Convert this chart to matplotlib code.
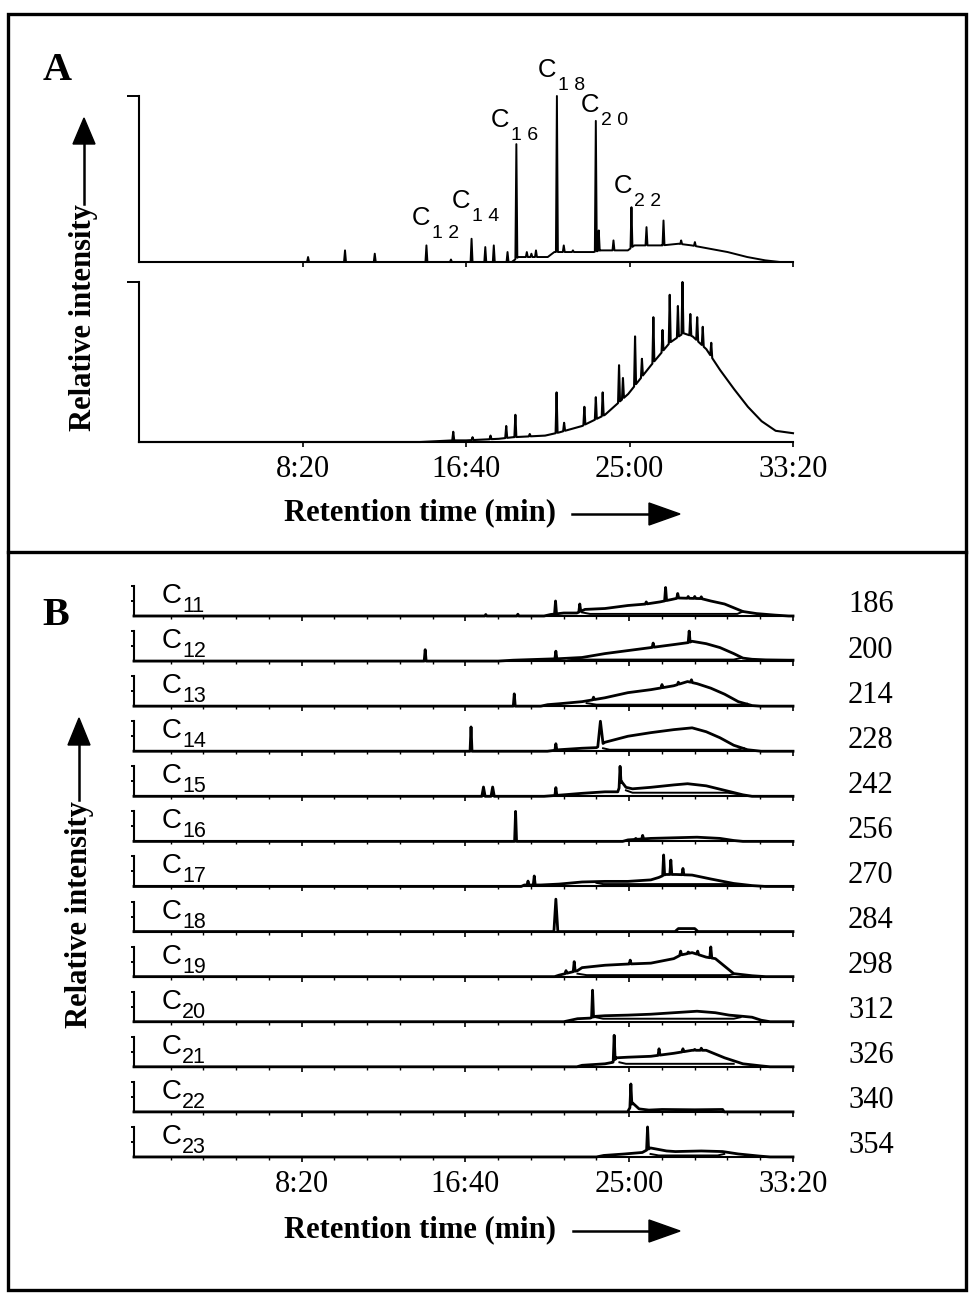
import numpy as np
import matplotlib
matplotlib.use("Agg")
import matplotlib.pyplot as plt
from matplotlib.patches import Rectangle, Polygon
from matplotlib.lines import Line2D

plt.rcParams['font.family'] = ['Liberation Serif', 'DejaVu Serif']

# ---------------- data (time in seconds, relative intensity) ----------------
TICK_T = [500, 1000, 1500, 2000]
TICK_LABELS = ["8:20", "16:40", "25:00", "33:20"]

# Panel A, upper chromatogram
A_TOP_ENV = [(0, 0), (1140, 0.0), (1160, 0.03), (1250, 0.03), (1270, 0.06), (1300, 0.06),
             (1390, 0.06), (1412, 0.07), (1495, 0.07), (1515, 0.10), (1600, 0.10),
             (1650, 0.11), (1690, 0.10), (1745, 0.08), (1800, 0.06), (1860, 0.03),
             (1915, 0.01), (1960, 0.0), (2000, 0.0)]
A_TOP_PEAKS = [(517, 0.03), (630, 0.07), (721, 0.05), (879, 0.10), (954, 0.015),
               (1017, 0.14), (1059, 0.09), (1085, 0.10), (1127, 0.06), (1154, 0.71),
               (1186, 0.06), (1200, 0.05), (1214, 0.07), (1278, 1.0), (1299, 0.10),
               (1327, 0.07), (1397, 0.85), (1406, 0.19), (1451, 0.13), (1506, 0.33),
               (1552, 0.21), (1604, 0.25), (1658, 0.13), (1700, 0.12)]
A_LABEL_NUMS = ["1 2", "1 4", "1 6", "1 8", "2 0", "2 2"]

# Panel A, lower chromatogram
A_BOT_ENV = [(0, 0), (860, 0.0), (960, 0.01), (1000, 0.01), (1100, 0.02), (1144, 0.03),
             (1242, 0.04), (1285, 0.06), (1355, 0.10), (1425, 0.17), (1496, 0.30),
             (1566, 0.48), (1623, 0.62), (1665, 0.68), (1693, 0.66), (1735, 0.58),
             (1777, 0.45), (1820, 0.33), (1862, 0.22), (1904, 0.13), (1947, 0.07),
             (2000, 0.055)]
A_BOT_PEAKS = [(961, 0.064), (1020, 0.03), (1075, 0.04), (1123, 0.10), (1151, 0.17),
               (1195, 0.05), (1277, 0.31), (1300, 0.12), (1362, 0.22), (1397, 0.28),
               (1418, 0.31), (1468, 0.48), (1480, 0.40), (1517, 0.66), (1538, 0.52),
               (1573, 0.78), (1601, 0.70), (1623, 0.92), (1648, 0.85), (1662, 1.0),
               (1686, 0.80), (1707, 0.78), (1724, 0.72), (1750, 0.62)]

# Panel B, extracted ion chromatograms
B_NAMES = ["11", "12", "13", "14", "15", "16", "17", "18", "19", "20", "21", "22", "23"]
B_MZ = ["186", "200", "214", "228", "242", "256", "270", "284", "298", "312", "326", "340", "354"]

C11_ENV = [(-12, 0), (1240, 0), (1260, 0.05), (1300, 0.1), (1340, 0.1), (1365, 0.22),
           (1426, 0.25), (1496, 0.35), (1552, 0.40), (1594, 0.47), (1629, 0.55),
           (1650, 0.6), (1720, 0.58), (1749, 0.5), (1791, 0.4), (1847, 0.15),
           (1889, 0.08), (1945, 0.03), (1987, 0), (2000, 0)]
C11_PEAKS = [(1062, 0.05), (1160, 0.06), (1275, 0.5), (1349, 0.4), (1552, 0.47),
             (1611, 0.95), (1648, 0.75), (1680, 0.65), (1700, 0.65), (1720, 0.64)]
C11_LOW = [(1356, 0.12), (1380, 0.07), (1830, 0.07), (1847, 0.15)]

C12_ENV = [(-12, 0), (1100, 0.0), (1146, 0.03), (1230, 0.06), (1286, 0.08), (1356, 0.12),
           (1426, 0.25), (1496, 0.35), (1566, 0.45), (1636, 0.55), (1683, 0.62),
           (1692, 0.66), (1735, 0.58), (1777, 0.45), (1819, 0.25), (1847, 0.10),
           (1875, 0.06), (1917, 0.04), (1987, 0.03), (2000, 0.03)]
C12_PEAKS = [(877, 0.38), (1276, 0.33), (1573, 0.6), (1683, 1.0)]
C12_LOW = [(1314, 0.08), (1340, 0.05), (1819, 0.05), (1840, 0.1)]

C13_ENV = [(-12, 0), (1230, 0), (1251, 0.05), (1286, 0.08), (1356, 0.15), (1426, 0.28),
           (1496, 0.45), (1566, 0.55), (1636, 0.68), (1678, 0.82), (1707, 0.75),
           (1749, 0.6), (1791, 0.4), (1833, 0.15), (1875, 0.02), (1900, 0), (2000, 0)]
C13_PEAKS = [(1149, 0.41), (1391, 0.3), (1600, 0.72), (1650, 0.8), (1690, 0.88)]
C13_LOW = [(1370, 0.1), (1400, 0.05), (1840, 0.05), (1860, 0.08)]

C14_ENV = [(-12, 0), (1250, 0), (1286, 0.05), (1356, 0.1), (1400, 0.12), (1426, 0.3),
           (1496, 0.5), (1566, 0.62), (1636, 0.72), (1692, 0.78), (1735, 0.65),
           (1777, 0.45), (1819, 0.2), (1861, 0.05), (1903, 0), (2000, 0)]
C14_PEAKS = [(1017, 0.81), (1276, 0.25), (1412, 1.0, 8)]
C14_LOW = [(1420, 0.1), (1440, 0.05), (1830, 0.05), (1850, 0.1)]

C15_ENV = [(-12, 0), (1240, 0), (1300, 0.05), (1356, 0.1), (1426, 0.15), (1465, 0.15),
           (1476, 0.5), (1490, 0.3), (1510, 0.25), (1566, 0.3), (1636, 0.38),
           (1678, 0.42), (1735, 0.35), (1791, 0.2), (1847, 0.05), (1875, 0), (2000, 0)]
C15_PEAKS = [(1055, 0.31, 5), (1083, 0.31, 5), (1276, 0.29), (1472, 1.0, 3)]
C15_LOW = [(1490, 0.2), (1510, 0.12), (1800, 0.12), (1830, 0.08)]

C16_ENV = [(-12, 0), (1480, 0), (1496, 0.05), (1566, 0.1), (1636, 0.12), (1707, 0.14),
           (1777, 0.1), (1819, 0.03), (1847, 0), (2000, 0)]
C16_PEAKS = [(1153, 1.0, 3), (1520, 0.1), (1541, 0.2)]
C16_LOW = []

C17_ENV = [(-12, 0), (1170, 0), (1180, 0.05), (1230, 0.05), (1286, 0.08), (1356, 0.15),
           (1426, 0.17), (1496, 0.17), (1566, 0.22), (1590, 0.3), (1611, 0.4),
           (1643, 0.4), (1692, 0.38), (1749, 0.25), (1819, 0.1), (1875, 0.03),
           (1917, 0), (2000, 0)]
C17_PEAKS = [(1191, 0.18), (1210, 0.35), (1605, 1.05, 3), (1627, 0.88, 3), (1664, 0.6)]
C17_LOW = [(1400, 0.12), (1420, 0.08), (1819, 0.08)]

C18_ENV = [(-12, 0), (1640, 0), (1650, 0.1), (1700, 0.1), (1710, 0), (2000, 0)]
C18_PEAKS = [(1276, 1.08, 6)]
C18_LOW = []

C19_ENV = [(-12, 0), (1272, 0), (1286, 0.05), (1342, 0.2), (1356, 0.3), (1426, 0.38),
           (1496, 0.42), (1566, 0.45), (1636, 0.6), (1657, 0.72), (1692, 0.8),
           (1735, 0.65), (1763, 0.6), (1791, 0.35), (1819, 0.1), (1875, 0.03),
           (1917, 0), (2000, 0)]
C19_PEAKS = [(1307, 0.2), (1332, 0.5), (1503, 0.55), (1657, 0.85), (1680, 0.82),
             (1709, 0.85), (1749, 0.99)]
C19_LOW = [(1342, 0.1), (1370, 0.05), (1805, 0.05), (1819, 0.08)]

C20_ENV = [(-12, 0), (1300, 0), (1342, 0.1), (1380, 0.12), (1398, 0.18), (1426, 0.2),
           (1496, 0.22), (1566, 0.25), (1636, 0.3), (1707, 0.35), (1763, 0.3),
           (1805, 0.22), (1847, 0.18), (1875, 0.15), (1903, 0.05), (1930, 0), (2000, 0)]
C20_PEAKS = [(1388, 1.05, 3)]
C20_LOW = [(1398, 0.15), (1420, 0.1), (1819, 0.1), (1840, 0.15)]

C21_ENV = [(-12, 0), (1340, 0), (1356, 0.05), (1426, 0.1), (1450, 0.15), (1461, 0.3),
           (1496, 0.32), (1566, 0.35), (1636, 0.45), (1692, 0.55), (1735, 0.55),
           (1791, 0.3), (1847, 0.1), (1903, 0.03), (1930, 0), (2000, 0)]
C21_PEAKS = [(1454, 1.05, 3), (1591, 0.6), (1664, 0.6), (1700, 0.58), (1720, 0.62)]
C21_LOW = [(1470, 0.15), (1490, 0.1), (1819, 0.1)]

C22_ENV = [(-12, 0), (1495, 0), (1510, 0.3), (1530, 0.1), (1560, 0.06), (1600, 0.08),
           (1700, 0.07), (1785, 0.08), (1790, 0), (2000, 0)]
C22_PEAKS = [(1505, 0.93, 3)]
C22_LOW = []

C23_ENV = [(-12, 0), (1400, 0), (1422, 0.05), (1486, 0.1), (1540, 0.15), (1565, 0.3),
           (1614, 0.2), (1641, 0.18), (1720, 0.2), (1785, 0.18), (1833, 0.1),
           (1897, 0.03), (1930, 0), (2000, 0)]
C23_PEAKS = [(1556, 1.0, 3)]
C23_LOW = [(1565, 0.1), (1590, 0.05), (1770, 0.05), (1790, 0.1)]

B_TRACES = [(C11_ENV, C11_PEAKS, C11_LOW), (C12_ENV, C12_PEAKS, C12_LOW),
            (C13_ENV, C13_PEAKS, C13_LOW), (C14_ENV, C14_PEAKS, C14_LOW),
            (C15_ENV, C15_PEAKS, C15_LOW), (C16_ENV, C16_PEAKS, C16_LOW),
            (C17_ENV, C17_PEAKS, C17_LOW), (C18_ENV, C18_PEAKS, C18_LOW),
            (C19_ENV, C19_PEAKS, C19_LOW), (C20_ENV, C20_PEAKS, C20_LOW),
            (C21_ENV, C21_PEAKS, C21_LOW), (C22_ENV, C22_PEAKS, C22_LOW),
            (C23_ENV, C23_PEAKS, C23_LOW)]

# ---------------- helpers ----------------
W, H = 969, 1294
fig = plt.figure(figsize=(W / 100, H / 100), dpi=100)


def rect(l, t, r, b):
    return [l / W, 1 - b / H, (r - l) / W, (b - t) / H]


def fp(x, y):
    return (x / W, 1 - y / H)


def build(env, peaks, w_default=4):
    env = np.asarray(env, float)
    te, ye = env[:, 0], env[:, 1]
    pts, wins = [], []
    for p in peaks:
        t, h = p[0], p[1]
        w = p[2] if len(p) > 2 else w_default
        pts += [(t - w, np.interp(t - w, te, ye)), (t, h), (t + w, np.interp(t + w, te, ye))]
        wins.append((t - w, t + w))
    for t, y in zip(te, ye):
        if not any(a <= t <= b for a, b in wins):
            pts.append((t, y))
    pts.sort(key=lambda q: q[0])
    arr = np.array(pts)
    return arr[:, 0], arr[:, 1]


def style_axes(ax, xmin, top_tick_len, yticks, labels, minor):
    ax.set_xlim(xmin, 2000)
    ax.set_ylim(0, 1)
    ax.patch.set_alpha(0)
    for s in ("top", "right"):
        ax.spines[s].set_visible(False)
    for s in ("left", "bottom"):
        ax.spines[s].set_linewidth(1.5)
        ax.spines[s].set_capstyle("projecting")
    ax.set_yticks(yticks)
    ax.set_yticklabels([])
    ax.tick_params(axis="y", direction="out", length=top_tick_len, width=1.4)
    ax.set_xticks(TICK_T)
    ax.set_xticklabels(TICK_LABELS if labels else [])
    ax.tick_params(axis="x", which="major", direction="out", length=3.5, width=1.2,
                   pad=6, labelsize=22)
    if minor:
        ax.set_xticks([t for t in range(100, 2001, 100) if t not in TICK_T], minor=True)
        ax.tick_params(axis="x", which="minor", direction="out", length=2.5, width=1.0)


# ---------------- panel A ----------------
axA1 = fig.add_axes(rect(139, 96, 793, 262))
style_axes(axA1, 0, 8.5, [1.0], False, False)
x, y = build(A_TOP_ENV, A_TOP_PEAKS, 3)
axA1.plot(x, y, color="black", lw=1.4, clip_on=False)

axA2 = fig.add_axes(rect(139, 282, 793, 442))
style_axes(axA2, 0, 8.5, [1.0], True, False)
x, y = build(A_BOT_ENV, A_BOT_PEAKS, 3)
axA2.plot(x, y, color="black", lw=1.5, clip_on=False)

A_LABEL_POS = [(412, 225), (452, 208), (491, 127), (538, 77), (581, 112), (614, 193)]
for (lx, ly), num in zip(A_LABEL_POS, A_LABEL_NUMS):
    fig.text(*fp(lx, ly), "C", family="Liberation Sans", fontsize=18.5, va="baseline", ha="left")
    fig.text(*fp(lx + 20, ly + 13), num, family="Liberation Sans", fontsize=14,
             va="baseline", ha="left")

# ---------------- panel B ----------------
B_BASE0, B_STEP, B_HEIGHT = 616, 45.08, 30
for i, (env, peaks, low) in enumerate(B_TRACES):
    base = B_BASE0 + i * B_STEP
    ax = fig.add_axes(rect(134, base - B_HEIGHT, 793, base))
    style_axes(ax, -12, 2.2, [0.5, 1.0], i == len(B_TRACES) - 1, True)
    x, y = build(env, peaks, 3)
    ax.plot(x, y, color="black", lw=2.0, clip_on=False)
    if low:
        lw_ = np.array(low)
        ax.plot(lw_[:, 0], lw_[:, 1], color="black", lw=1.4, clip_on=False)
    fig.text(*fp(162, base - 13), "C", family="Liberation Sans", fontsize=20,
             va="baseline", ha="left")
    fig.text(*fp(182, base - 4), B_NAMES[i], family="Liberation Sans", fontsize=15.5,
             va="baseline", ha="left")
    fig.text(*fp(848, base - 11), B_MZ[i], fontsize=22, va="center", ha="left")

# ---------------- panel letters, axis titles, arrows ----------------
fig.text(*fp(57, 71), "A", fontsize=29, fontweight="bold", ha="center", va="center")
fig.text(*fp(56, 615), "B", fontsize=29, fontweight="bold", ha="center", va="center")


def arrow_up(x, tip, head_base, shaft_end):
    fig.add_artist(Line2D([x / W, x / W], [1 - shaft_end / H, 1 - (head_base - 2) / H],
                          color="black", lw=1.8, transform=fig.transFigure))
    fig.add_artist(Polygon([fp(x, tip), fp(x - 11, head_base), fp(x + 11, head_base)],
                           closed=True, color="black", transform=fig.transFigure))


def arrow_right(y, start, head_base, tip):
    fig.add_artist(Line2D([start / W, (head_base + 2) / W], [1 - y / H, 1 - y / H],
                          color="black", lw=1.8, transform=fig.transFigure))
    fig.add_artist(Polygon([fp(tip, y), fp(head_base, y - 11), fp(head_base, y + 11)],
                           closed=True, color="black", transform=fig.transFigure))


# panel A titles
fig.text(*fp(420, 513), "Retention time (min)", fontsize=22, fontweight="bold",
         ha="center", va="center")
arrow_right(514, 572, 649, 680)
fig.text(*fp(84, 318), "Relative intensity", fontsize=22, fontweight="bold",
         ha="center", va="center", rotation=90)
arrow_up(84, 118, 144, 204)

# panel B titles
fig.text(*fp(420, 1230), "Retention time (min)", fontsize=22, fontweight="bold",
         ha="center", va="center")
arrow_right(1231, 573, 649, 680)
fig.text(*fp(79, 915), "Relative intensity", fontsize=22, fontweight="bold",
         ha="center", va="center", rotation=90)
arrow_up(79, 718, 745, 800)

# ---------------- frame ----------------
fig.add_artist(Rectangle(fp(8, 1290), (966 - 8) / W, (1290 - 14) / H, fill=False,
                         lw=2.4, edgecolor="black", transform=fig.transFigure))
fig.add_artist(Line2D([8 / W, 966 / W], [1 - 552 / H, 1 - 552 / H], color="black",
                      lw=2.4, transform=fig.transFigure))

fig.savefig("out.png", dpi=100)
